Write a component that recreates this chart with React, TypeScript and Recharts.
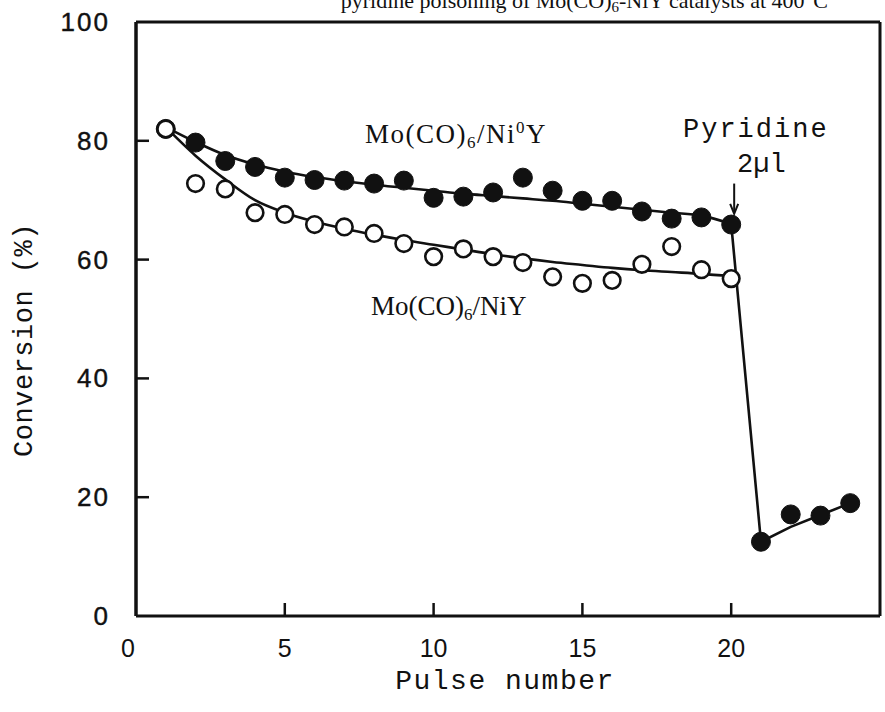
import React from 'react';
import { ComposedChart, Line, XAxis, YAxis, ReferenceLine } from 'recharts';

// Pulse numbers
const pulses = [1, 2, 3, 4, 5, 6, 7, 8, 9, 10, 11, 12, 13, 14, 15, 16, 17, 18, 19, 20, 21, 22, 23, 24];
// Mo(CO)6/Ni0Y (filled circles), conversion %
const niZeroY = [82, 79.7, 76.6, 75.6, 73.8, 73.4, 73.3, 72.8, 73.3, 70.4, 70.6, 71.3, 73.8, 71.6, 69.9, 69.9, 68.1, 66.9, 67.1, 65.9, 12.5, 17.1, 16.9, 19.0];
// Mo(CO)6/NiY (open circles), conversion %, pulses 1-20
const niY = [82, 72.8, 71.9, 67.9, 67.6, 65.9, 65.5, 64.4, 62.7, 60.5, 61.8, 60.5, 59.5, 57.1, 56.0, 56.5, 59.2, 62.2, 58.3, 56.8];
// hand-drawn trend curves
const niZeroYCurve = [82.3, 79.8, 77.6, 76.0, 74.8, 73.9, 73.2, 72.6, 72.1, 71.6, 71.1, 70.7, 70.3, 69.9, 69.4, 68.9, 68.4, 67.9, 67.4, 66.0];
const afterPyridine = [66.0, 12.5, 15.0, 17.0, 19.0]; // pulses 20-24
const niYCurve = [82.3, 77.5, 73.5, 70.0, 67.9, 66.4, 65.2, 64.2, 63.3, 62.5, 61.7, 60.9, 60.2, 59.6, 59.1, 58.6, 58.2, 57.9, 57.6, 57.2];

const xTicks = [0, 5, 10, 15, 20];
const yTicks = [0, 20, 40, 60, 80, 100];

const data = pulses.map((p, i) => ({
  pulse: p,
  filled: niZeroY[i],
  open: i < niY.length ? niY[i] : null,
  filledCurve: i < niZeroYCurve.length ? niZeroYCurve[i] : null,
  openCurve: i < niYCurve.length ? niYCurve[i] : null,
  tail: i >= 19 ? afterPyridine[i - 19] : null,
}));

const INK = '#111';

const YTick = (props: any) => {
  const { x, y, payload } = props;
  const v = payload.value;
  const ax = x + 26;
  return (
    <g>
      {v > 0 && v < 100 && <line x1={ax} x2={ax + 13} y1={y} y2={y} stroke={INK} strokeWidth={2.5} />}
      <text x={x} y={y} dy={9} textAnchor="end" fontFamily="'Liberation Sans', Arial, sans-serif" fontSize={26} letterSpacing={2} fill={INK} stroke={INK} strokeWidth={0.4}>
        {v}
      </text>
    </g>
  );
};

const XTick = (props: any) => {
  const { x, y, payload } = props;
  const v = payload.value;
  return (
    <g>
      {v > 0 && <line x1={x} x2={x} y1={y - 20} y2={y - 33} stroke={INK} strokeWidth={2.5} />}
      <text x={v === 0 ? x - 8 : x} y={y} dy={21} textAnchor="middle" fontFamily="'Liberation Sans', Arial, sans-serif" fontSize={25} fill={INK}>
        {v}
      </text>
    </g>
  );
};

const FilledDot = (props: any) => {
  const { cx, cy, value } = props;
  if (value == null || cx == null || cy == null) return null;
  return <circle cx={cx} cy={cy} r={9.5} fill={INK} stroke={INK} />;
};

const OpenDot = (props: any) => {
  const { cx, cy, value } = props;
  if (value == null || cx == null || cy == null) return null;
  return <circle cx={cx} cy={cy} r={8.3} fill="#fff" stroke={INK} strokeWidth={2.6} />;
};

const Arrow = (props: any) => {
  const { x1, y1, x2, y2 } = props;
  if (x1 == null) return null;
  const top = Math.min(y1, y2);
  const bot = Math.max(y1, y2);
  return (
    <g>
      <line x1={x1} x2={x1} y1={top} y2={bot - 2} stroke={INK} strokeWidth={2} />
      <path d={`M${x1 - 4},${bot - 10} L${x1},${bot} L${x1 + 4},${bot - 10}`} fill="none" stroke={INK} strokeWidth={2} />
    </g>
  );
};

export default function App() {
  return (
    <div style={{ position: 'absolute', left: 0, top: 0, width: 885, height: 712, background: '#fff' }}>
      <ComposedChart width={885} height={712} data={data} margin={{ top: 22, right: 5, left: 0, bottom: 0 }}>
        <XAxis
          dataKey="pulse"
          type="number"
          domain={[0, 25]}
          ticks={xTicks}
          height={96}
          tickSize={0}
          tickMargin={20}
          tickLine={false}
          axisLine={{ stroke: INK, strokeWidth: 3 }}
          tick={<XTick />}
        />
        <YAxis
          type="number"
          domain={[0, 100]}
          ticks={yTicks}
          width={136}
          tickSize={0}
          tickMargin={26}
          tickLine={false}
          axisLine={{ stroke: INK, strokeWidth: 3.5 }}
          tick={<YTick />}
        />
        <ReferenceLine y={100} stroke={INK} strokeWidth={3} />
        <ReferenceLine x={25} stroke={INK} strokeWidth={3} />
        <ReferenceLine
          segment={[{ x: 20.1, y: 72.8 }, { x: 20.1, y: 67.7 }]}
          shape={<Arrow />}
        />
        <Line dataKey="filledCurve" type="monotone" stroke={INK} strokeWidth={2.6} dot={false} isAnimationActive={false} connectNulls={false} />
        <Line dataKey="tail" type="linear" stroke={INK} strokeWidth={2.6} dot={false} isAnimationActive={false} connectNulls={false} />
        <Line dataKey="openCurve" type="monotone" stroke={INK} strokeWidth={2.6} dot={false} isAnimationActive={false} connectNulls={false} />
        <Line dataKey="filled" stroke="none" dot={<FilledDot />} activeDot={false} isAnimationActive={false} />
        <Line dataKey="open" stroke="none" dot={<OpenDot />} activeDot={false} isAnimationActive={false} />
      </ComposedChart>
      <svg width={885} height={712} style={{ position: 'absolute', left: 0, top: 0, pointerEvents: 'none' }}>
        <text x={828} y={8} textAnchor="end" fontFamily="'Liberation Serif', 'Times New Roman', serif" fontSize={22} fill={INK}>
          pyridine poisoning of Mo(CO)<tspan dy={4} fontSize={15}>6</tspan><tspan dy={-4}>-NiY catalysts at 400°C</tspan>
        </text>
        <text x={365} y={143} fontFamily="'Liberation Serif', 'Times New Roman', serif" fontSize={27} letterSpacing={1.5} fill={INK}>
          Mo(CO)<tspan dy={5} fontSize={17}>6</tspan><tspan dy={-5}>/Ni</tspan><tspan dy={-10} fontSize={17}>0</tspan><tspan dy={10}>Y</tspan>
        </text>
        <text x={371} y={315} fontFamily="'Liberation Serif', 'Times New Roman', serif" fontSize={27} fill={INK}>
          Mo(CO)<tspan dy={5} fontSize={17}>6</tspan><tspan dy={-5}>/NiY</tspan>
        </text>
        <text x={683} y={137} fontFamily="'Liberation Mono', 'Courier New', monospace" fontSize={27} letterSpacing={2} fill={INK}>
          Pyridine
        </text>
        <text x={737} y={172} fontFamily="'Liberation Mono', 'Courier New', monospace" fontSize={27} fill={INK}>
          2µl
        </text>
        <text x={505} y={689} textAnchor="middle" fontFamily="'Liberation Mono', 'Courier New', monospace" fontSize={28} letterSpacing={1.5} fill={INK}>
          Pulse number
        </text>
        <text x={32} y={340} textAnchor="middle" transform="rotate(-90 32 340)" fontFamily="'Liberation Mono', 'Courier New', monospace" fontSize={27} letterSpacing={0.5} fill={INK}>
          Conversion (%)
        </text>
      </svg>
    </div>
  );
}
